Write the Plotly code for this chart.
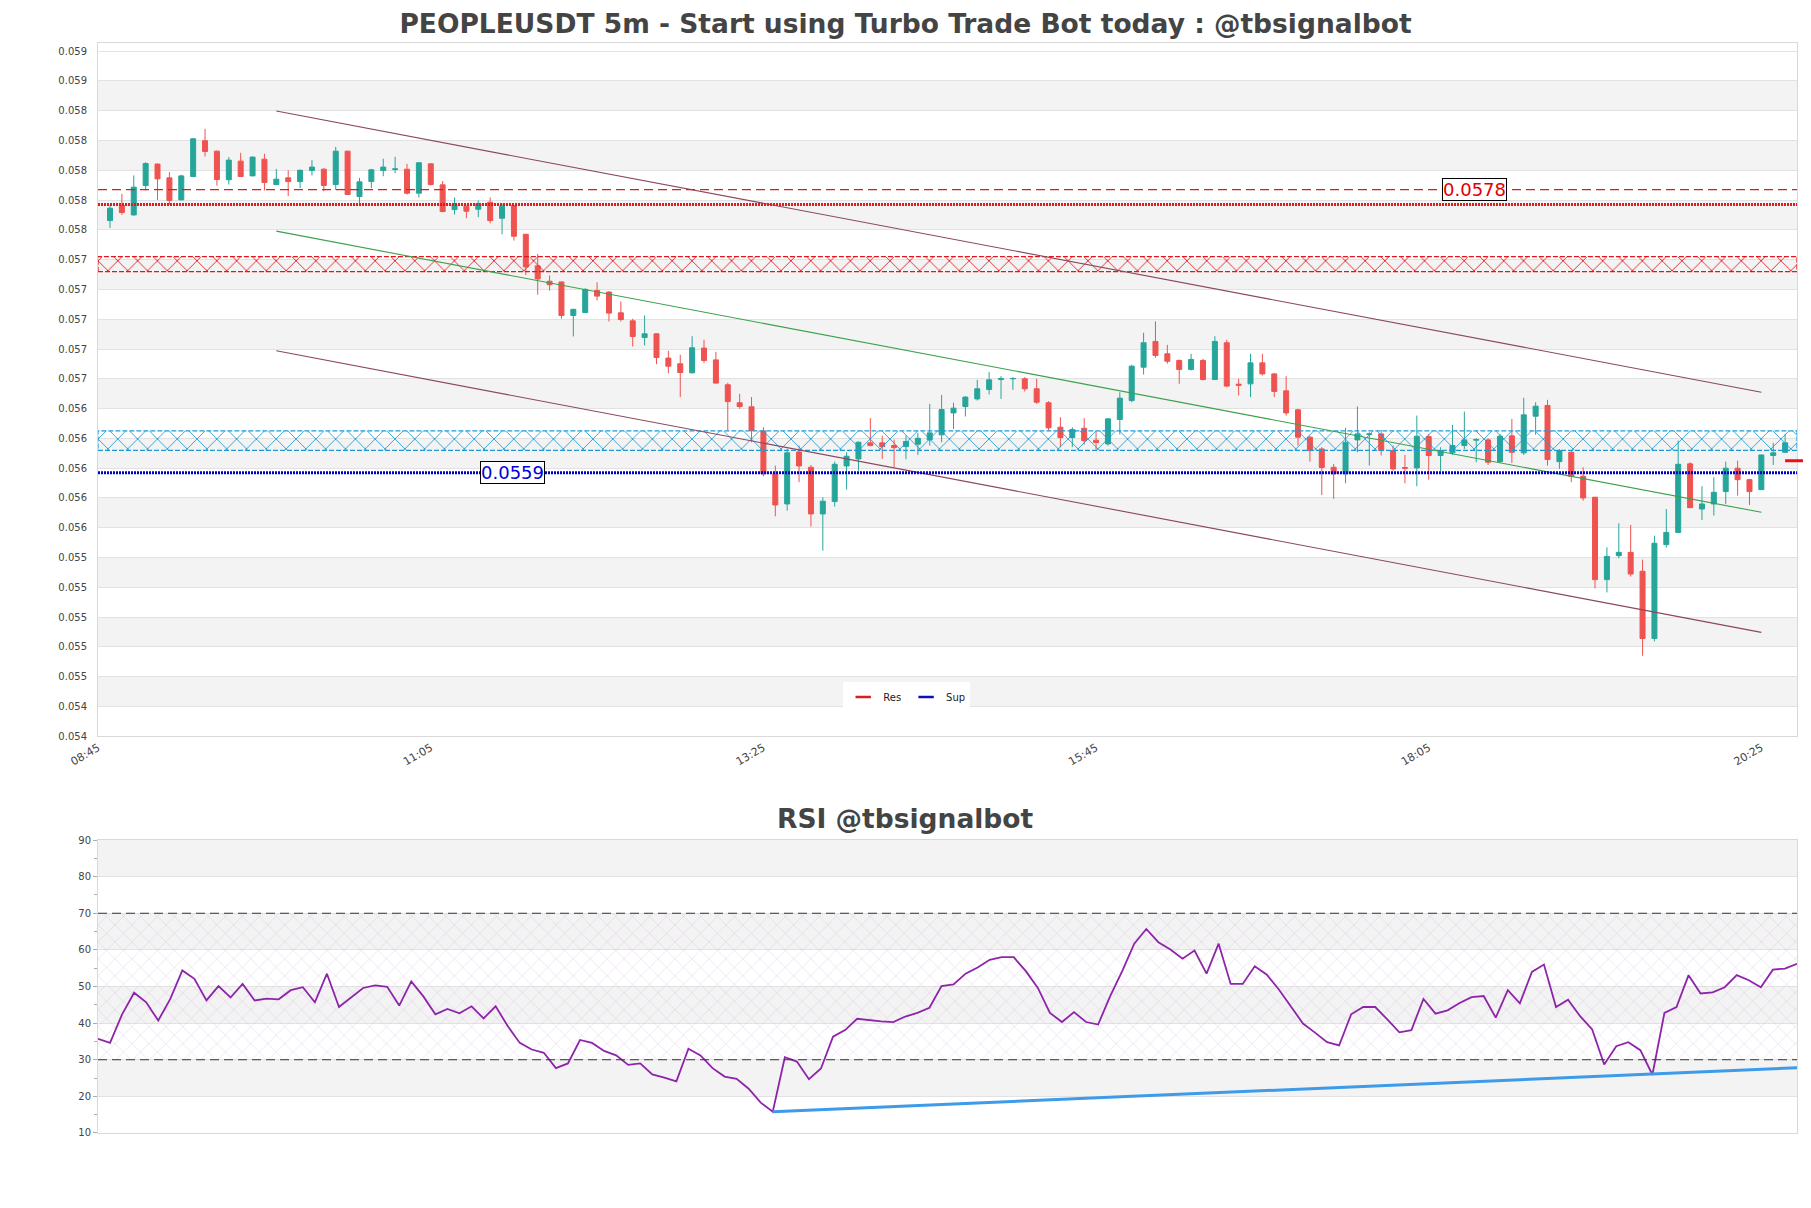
import pandas as pd
import plotly.graph_objects as go

# PEOPLEUSDT 5m candles, first candle at 08:50
opens = [0.057562, 0.057663, 0.057600, 0.057797, 0.057941, 0.057849, 0.057701, 0.057858, 0.058098, 0.058028,
         0.057836, 0.057961, 0.057862, 0.057974, 0.057804, 0.057849, 0.057824, 0.057898, 0.057907, 0.057804,
         0.058028, 0.057724, 0.057824, 0.057898, 0.057905, 0.057907, 0.057746, 0.057943, 0.057802, 0.057636,
         0.057659, 0.057638, 0.057685, 0.057578, 0.057663, 0.057470, 0.057258, 0.057155, 0.057150, 0.056925,
         0.056945, 0.057093, 0.057082, 0.056943, 0.056889, 0.056777, 0.056802, 0.056639, 0.056601, 0.056540,
         0.056706, 0.056627, 0.056460, 0.056339, 0.056312, 0.056150, 0.055862, 0.055660, 0.056009, 0.055906,
         0.055593, 0.055676, 0.055915, 0.055962, 0.056070, 0.056070, 0.056052, 0.056045, 0.056061, 0.056090,
         0.056124, 0.056271, 0.056314, 0.056365, 0.056428, 0.056495, 0.056500, 0.056500, 0.056433, 0.056339,
         0.056175, 0.056106, 0.056168, 0.056088, 0.056063, 0.056227, 0.056354, 0.056578, 0.056751, 0.056668,
         0.056623, 0.056563, 0.056623, 0.056495, 0.056742, 0.056464, 0.056466, 0.056607, 0.056533, 0.056419,
         0.056292, 0.056108, 0.056029, 0.055906, 0.055862, 0.056090, 0.056126, 0.056130, 0.056018, 0.055904,
         0.055902, 0.056112, 0.055985, 0.056003, 0.056052, 0.056088, 0.056090, 0.055944, 0.056117, 0.056003,
         0.056249, 0.056321, 0.055944, 0.056007, 0.055846, 0.055705, 0.055152, 0.055313, 0.055335, 0.055208,
         0.054757, 0.055387, 0.055469, 0.055929, 0.055626, 0.055660, 0.055743, 0.055900, 0.055823, 0.055756,
         0.055985, 0.056007]
highs = [0.057663, 0.057741, 0.057865, 0.057954, 0.057946, 0.057887, 0.057869, 0.058115, 0.058178, 0.058032,
         0.057988, 0.058017, 0.057992, 0.058010, 0.057909, 0.057900, 0.057903, 0.057968, 0.057913, 0.058057,
         0.058031, 0.057849, 0.057909, 0.057977, 0.057990, 0.057943, 0.057954, 0.057946, 0.057827, 0.057717,
         0.057663, 0.057697, 0.057717, 0.057676, 0.057666, 0.057473, 0.057338, 0.057193, 0.057153, 0.056970,
         0.057108, 0.057148, 0.057089, 0.057019, 0.056903, 0.056925, 0.056805, 0.056688, 0.056661, 0.056786,
         0.056762, 0.056681, 0.056473, 0.056399, 0.056377, 0.056175, 0.055917, 0.056030, 0.056052, 0.055922,
         0.055705, 0.055944, 0.056007, 0.056079, 0.056236, 0.056119, 0.056092, 0.056119, 0.056137, 0.056332,
         0.056392, 0.056339, 0.056383, 0.056493, 0.056545, 0.056518, 0.056511, 0.056511, 0.056500, 0.056350,
         0.056242, 0.056175, 0.056236, 0.056148, 0.056236, 0.056410, 0.056594, 0.056809, 0.056885, 0.056728,
         0.056630, 0.056668, 0.056634, 0.056786, 0.056762, 0.056500, 0.056668, 0.056668, 0.056536, 0.056518,
         0.056298, 0.056119, 0.056041, 0.055929, 0.056171, 0.056314, 0.056141, 0.056157, 0.056052, 0.055989,
         0.056253, 0.056130, 0.056041, 0.056191, 0.056280, 0.056101, 0.056101, 0.056130, 0.056231, 0.056372,
         0.056343, 0.056359, 0.056029, 0.056018, 0.055906, 0.055708, 0.055369, 0.055530, 0.055519, 0.055286,
         0.055447, 0.055626, 0.056085, 0.055940, 0.055779, 0.055839, 0.055944, 0.055951, 0.055828, 0.055991,
         0.056070, 0.056130]
lows = [0.057513, 0.057600, 0.057595, 0.057764, 0.057701, 0.057668, 0.057698, 0.057855, 0.057992, 0.057797,
        0.057804, 0.057855, 0.057860, 0.057764, 0.057800, 0.057726, 0.057780, 0.057865, 0.057759, 0.057768,
        0.057734, 0.057668, 0.057780, 0.057860, 0.057880, 0.057737, 0.057717, 0.057797, 0.057619, 0.057603,
        0.057578, 0.057585, 0.057544, 0.057470, 0.057428, 0.057197, 0.057065, 0.057092, 0.056903, 0.056784,
        0.056942, 0.057026, 0.056885, 0.056885, 0.056717, 0.056724, 0.056598, 0.056536, 0.056377, 0.056536,
        0.056605, 0.056468, 0.056153, 0.056298, 0.056074, 0.055846, 0.055577, 0.055615, 0.055806, 0.055508,
        0.055346, 0.055642, 0.055756, 0.055884, 0.056048, 0.055962, 0.055906, 0.055960, 0.055989, 0.056052,
        0.056074, 0.056164, 0.056247, 0.056354, 0.056395, 0.056365, 0.056426, 0.056415, 0.056332, 0.056153,
        0.056041, 0.056041, 0.056059, 0.056025, 0.056052, 0.056126, 0.056343, 0.056529, 0.056641, 0.056601,
        0.056466, 0.056556, 0.056489, 0.056492, 0.056444, 0.056388, 0.056377, 0.056522, 0.056377, 0.056253,
        0.056052, 0.055944, 0.055720, 0.055694, 0.055799, 0.056007, 0.055917, 0.055985, 0.055884, 0.055799,
        0.055779, 0.055823, 0.055877, 0.055989, 0.056029, 0.055940, 0.055922, 0.055935, 0.055935, 0.055989,
        0.056124, 0.055917, 0.055895, 0.055806, 0.055682, 0.055093, 0.055066, 0.055295, 0.055172, 0.054641,
        0.054737, 0.055367, 0.055465, 0.055633, 0.055552, 0.055582, 0.055660, 0.055716, 0.055653, 0.055754,
        0.055922, 0.056003]
closes = [0.057645, 0.057616, 0.057786, 0.057945, 0.057842, 0.057697, 0.057862, 0.058111, 0.058026, 0.057838,
          0.057968, 0.057858, 0.057988, 0.057818, 0.057840, 0.057824, 0.057900, 0.057921, 0.057797, 0.058028,
          0.057737, 0.057822, 0.057903, 0.057921, 0.057909, 0.057746, 0.057950, 0.057804, 0.057623, 0.057668,
          0.057625, 0.057676, 0.057562, 0.057659, 0.057457, 0.057251, 0.057170, 0.057132, 0.056925, 0.056966,
          0.057100, 0.057055, 0.056941, 0.056898, 0.056784, 0.056802, 0.056643, 0.056585, 0.056542, 0.056708,
          0.056623, 0.056471, 0.056347, 0.056314, 0.056153, 0.055862, 0.055653, 0.056003, 0.055915, 0.055593,
          0.055678, 0.055926, 0.055980, 0.056074, 0.056052, 0.056045, 0.056038, 0.056079, 0.056101, 0.056137,
          0.056294, 0.056303, 0.056377, 0.056433, 0.056493, 0.056502, 0.056502, 0.056433, 0.056343, 0.056171,
          0.056106, 0.056159, 0.056085, 0.056072, 0.056231, 0.056370, 0.056585, 0.056742, 0.056657, 0.056618,
          0.056563, 0.056630, 0.056495, 0.056751, 0.056451, 0.056457, 0.056607, 0.056533, 0.056415, 0.056271,
          0.056108, 0.056018, 0.055904, 0.055862, 0.056074, 0.056130, 0.056130, 0.056018, 0.055895, 0.055900,
          0.056115, 0.055985, 0.056018, 0.056052, 0.056090, 0.056092, 0.055940, 0.056115, 0.056007, 0.056258,
          0.056316, 0.055958, 0.056018, 0.055844, 0.055700, 0.055152, 0.055308, 0.055335, 0.055190, 0.054757,
          0.055396, 0.055469, 0.055926, 0.055635, 0.055660, 0.055738, 0.055900, 0.055823, 0.055743, 0.055989,
          0.056003, 0.056070]

rsi = [35.7, 34.6, 42.4, 48.3, 45.7, 40.7, 46.6, 54.4, 52.1, 46.2, 50.1, 47.0, 50.7, 46.2, 46.7, 46.5, 49.0,
       49.8, 45.7, 53.5, 44.4, 46.9, 49.6, 50.3, 49.9, 44.8, 51.4, 47.3, 42.4, 43.9, 42.7, 44.6, 41.3, 44.6,
       39.2, 34.6, 32.8, 31.9, 27.7, 29.0, 35.4, 34.6, 32.4, 31.2, 28.6, 29.0, 26.0, 25.1, 24.1, 33.0, 31.2,
       27.7, 25.4, 24.8, 22.1, 18.3, 15.8, 30.7, 29.5, 24.7, 27.6, 36.3, 38.1, 41.2, 40.8, 40.5, 40.3, 41.8,
       42.8, 44.2, 50.1, 50.6, 53.5, 55.2, 57.3, 58.0, 58.0, 54.2, 49.6, 42.8, 40.3, 43.0, 40.3, 39.6, 47.4,
       54.2, 61.7, 65.7, 62.1, 60.1, 57.6, 59.8, 53.5, 61.7, 50.7, 50.7, 55.5, 53.2, 49.2, 44.6, 39.9, 37.4,
       34.8, 33.9, 42.4, 44.4, 44.4, 41.0, 37.5, 38.1, 46.6, 42.6, 43.5, 45.5, 47.1, 47.4, 41.5, 49.0, 45.4,
       54.0, 56.0, 44.4, 46.4, 41.9, 38.3, 28.7, 33.7, 34.8, 32.6, 25.9, 42.8, 44.4, 53.1, 48.1, 48.4, 49.8,
       53.1, 51.7, 49.8, 54.6, 54.9, 56.2]

# levels
res_level = 0.05777        # dashed, labelled
res_line = 0.05767         # dotted
res_zone = [0.05722, 0.05732]
sup_level = 0.05587        # dotted, labelled
sup_zone = [0.05602, 0.05615]
last_marker = 0.05595

# descending channel (candle index -> price)
channel_idx = [14, 139]
channel_upper = [0.058297, 0.056410]
channel_mid = [0.057491, 0.055604]
channel_lower = [0.056688, 0.054798]

# rsi support trend line
rsi_trend_idx = [56, 141]
rsi_trend_val = [15.8, 27.8]

y_tick_vals = [0.0541, 0.0543, 0.0545, 0.0547, 0.0549, 0.0551, 0.0553, 0.0555, 0.0557, 0.0559, 0.0561, 0.0563,
               0.0565, 0.0567, 0.0569, 0.0571, 0.0573, 0.0575, 0.0577, 0.0579, 0.0581, 0.0583, 0.0585, 0.0587]
y_tick_text = ["0.054", "0.054", "0.055", "0.055", "0.055", "0.055", "0.055", "0.056", "0.056", "0.056",
               "0.056", "0.056", "0.057", "0.057", "0.057", "0.057", "0.057", "0.058", "0.058", "0.058",
               "0.058", "0.058", "0.059", "0.059"]
x_tick_text = ["08:45", "11:05", "13:25", "15:45", "18:05", "20:25"]
rsi_ticks = [10, 20, 30, 40, 50, 60, 70, 80, 90]

day = "2024-01-01 "
times = pd.date_range(day + "08:50", periods=len(closes), freq="5min")
step = pd.Timedelta("5min")
xr0, xr1 = times[0] - step - pd.Timedelta("3s"), times[-1] + step
yr0, yr1 = 0.0541, 0.058754
dom_main = [0.3639, 1.0]
dom_rsi = [0.0, 0.2688]

RED = "#e31a1c"
BLUE = "#0000cd"
FONT = "DejaVu Sans"
W, H = 1795, 1192

fig = go.Figure()

# zones with hatch pattern
for (z0, z1), col in [(res_zone, "#e3161b"), (sup_zone, "#1c9ad6")]:
    fig.add_trace(go.Scatter(
        x=[xr0, xr1, xr1, xr0, xr0], y=[z0, z0, z1, z1, z0], mode="lines", fill="toself",
        line=dict(color=col, width=1.2, dash="5px,2px"), fillcolor="rgba(0,0,0,0)",
        fillpattern=dict(shape="x", fgcolor=col, fgopacity=1, bgcolor="rgba(0,0,0,0)", size=14,
                         solidity=0.12),
        showlegend=False, hoverinfo="skip"))

# channel
ch_x = [times[channel_idx[0]], times[channel_idx[1]]]
for ys, col in [(channel_upper, "#8b475d"), (channel_lower, "#8b475d"), (channel_mid, "#3aa14a")]:
    fig.add_trace(go.Scatter(x=ch_x, y=ys, mode="lines", line=dict(color=col, width=1.1),
                             showlegend=False, hoverinfo="skip"))

# res / sup lines
fig.add_trace(go.Scatter(x=[xr0, xr1], y=[res_level, res_level], mode="lines",
                         line=dict(color=RED, width=1.3, dash="9px,5px"), showlegend=False))
fig.add_trace(go.Scatter(x=[xr0, xr1], y=[res_line, res_line], mode="lines",
                         line=dict(color=RED, width=3, dash="2px,1px"), showlegend=False))
fig.add_trace(go.Scatter(x=[xr0, xr1], y=[sup_level, sup_level], mode="lines",
                         line=dict(color=BLUE, width=3, dash="2px,1px"), showlegend=False))

fig.add_trace(go.Candlestick(
    x=times, open=opens, high=highs, low=lows, close=closes, whiskerwidth=0,
    increasing=dict(line=dict(color="#26a69a", width=1), fillcolor="#26a69a"),
    decreasing=dict(line=dict(color="#ef5350", width=1), fillcolor="#ef5350"),
    showlegend=False))

# legend entries
for name, col in [("Res", "#d42020"), ("Sup", "#1010b0")]:
    fig.add_trace(go.Scatter(x=[None], y=[None], mode="markers", name=name,
                             marker=dict(symbol="line-ew", size=11, line=dict(color=col, width=2.5))))

# RSI panel
fig.add_trace(go.Scatter(x=[times[0], times[-1], times[-1], times[0], times[0]], y=[30, 30, 70, 70, 30],
                         mode="lines", fill="toself", line=dict(width=0), fillcolor="rgba(0,0,0,0)",
                         fillpattern=dict(shape="x", fgcolor="#c4a6d2", fgopacity=0.7,
                                          bgcolor="rgba(0,0,0,0)", size=12, solidity=0.06),
                         xaxis="x2", yaxis="y2", showlegend=False, hoverinfo="skip"))
fig.add_trace(go.Scatter(x=times, y=rsi, mode="lines", line=dict(color="#8e24aa", width=1.8),
                         xaxis="x2", yaxis="y2", showlegend=False))
fig.add_trace(go.Scatter(x=[times[rsi_trend_idx[0]], times[rsi_trend_idx[1]]], y=rsi_trend_val,
                         mode="lines", line=dict(color="#3d9be9", width=3),
                         xaxis="x2", yaxis="y2", showlegend=False))

shapes = []
for i in range(1, len(y_tick_vals) - 1, 2):
    shapes.append(dict(type="rect", xref="x domain", yref="y", x0=0, x1=1, y0=y_tick_vals[i],
                       y1=y_tick_vals[i + 1], fillcolor="#f3f3f3", line=dict(width=0), layer="below"))
for i in range(1, len(rsi_ticks) - 1, 2):
    shapes.append(dict(type="rect", xref="x2 domain", yref="y2", x0=0, x1=1, y0=rsi_ticks[i],
                       y1=rsi_ticks[i + 1], fillcolor="#f3f3f3", line=dict(width=0), layer="below"))
for lvl in (30, 70):
    shapes.append(dict(type="line", xref="x2 domain", yref="y2", x0=0, x1=1, y0=lvl, y1=lvl,
                       line=dict(color="#333", width=1, dash="9px,5px")))

# current price marker sticking out on the right
span = (xr1 - xr0)
mx0 = (times[-1] - xr0) / span
my = dom_main[0] + (last_marker - yr0) / (yr1 - yr0) * (dom_main[1] - dom_main[0])
shapes.append(dict(type="line", xref="paper", yref="paper", x0=mx0, x1=1.006, y0=my, y1=my,
                   line=dict(color="#e8101a", width=3)))

annotations = [
    dict(text=f"{res_level:.4f}", xref="paper", yref="y", x=0.81, y=res_level, xanchor="center",
         yanchor="middle", showarrow=False, font=dict(family=FONT, size=18, color="#e00000"),
         bgcolor="white", bordercolor="black", borderwidth=1, borderpad=0),
    dict(text=f"{sup_level:.4f}", xref="paper", yref="y", x=0.244, y=sup_level, xanchor="center",
         yanchor="middle", showarrow=False, font=dict(family=FONT, size=18, color="#0000dd"),
         bgcolor="white", bordercolor="black", borderwidth=1, borderpad=0),
    dict(text="<b>RSI @tbsignalbot</b>", xref="paper", yref="paper", x=0.4753, y=0.2881,
         xanchor="center", yanchor="middle", showarrow=False,
         font=dict(family=FONT, size=26.5, color="#444")),
]

fig.update_layout(
    width=W, height=H,
    margin=dict(l=90, r=6, t=35, b=67),
    paper_bgcolor="white", plot_bgcolor="white",
    font=dict(family=FONT, color="#444", size=10),
    title=dict(text="<b>PEOPLEUSDT 5m - Start using Turbo Trade Bot today : @tbsignalbot</b>",
               x=0.5, xanchor="center", y=1 - 15.5 / H, yanchor="middle",
               font=dict(family=FONT, size=26.5, color="#444")),
    boxgap=0.4,
    showlegend=True,
    legend=dict(orientation="h", x=0.476, xanchor="center", y=0.3867, yanchor="bottom",
                bgcolor="white", font=dict(size=10, color="#222"), itemwidth=30),
    xaxis=dict(domain=[0, 1], anchor="y", type="date", range=[xr0, xr1], rangeslider=dict(visible=False),
               tickmode="array", tickvals=[pd.Timestamp(day + t) for t in x_tick_text], ticktext=x_tick_text,
               tickangle=-30, tickfont=dict(size=11), showgrid=False, zeroline=False,
               showline=True, linecolor="#d9d9d9", mirror=True),
    yaxis=dict(domain=dom_main, anchor="x", range=[yr0, yr1], tickmode="array", tickvals=y_tick_vals,
               ticktext=y_tick_text, tickfont=dict(size=10), showgrid=True, gridcolor="#e2e2e2",
               zeroline=False, showline=True, linecolor="#d9d9d9", mirror=True, ticklabelstandoff=8),
    xaxis2=dict(domain=[0, 1], anchor="y2", type="date", range=[times[0], times[-1]],
                showticklabels=False, showgrid=False, zeroline=False,
                showline=True, linecolor="#d9d9d9", mirror=True),
    yaxis2=dict(domain=dom_rsi, anchor="x2", range=[10, 90], tickmode="array", tickvals=rsi_ticks,
                tickfont=dict(size=10), showgrid=True, gridcolor="#e2e2e2", zeroline=False, showline=True,
                linecolor="#d9d9d9", mirror=True, ticks="outside", ticklen=4, tickcolor="#aaa",
                minor=dict(ticks="outside", ticklen=3, dtick=5, tick0=5, tickcolor="#aaa", showgrid=False)),
    shapes=shapes,
    annotations=annotations,
)

fig.write_html("out.html")
